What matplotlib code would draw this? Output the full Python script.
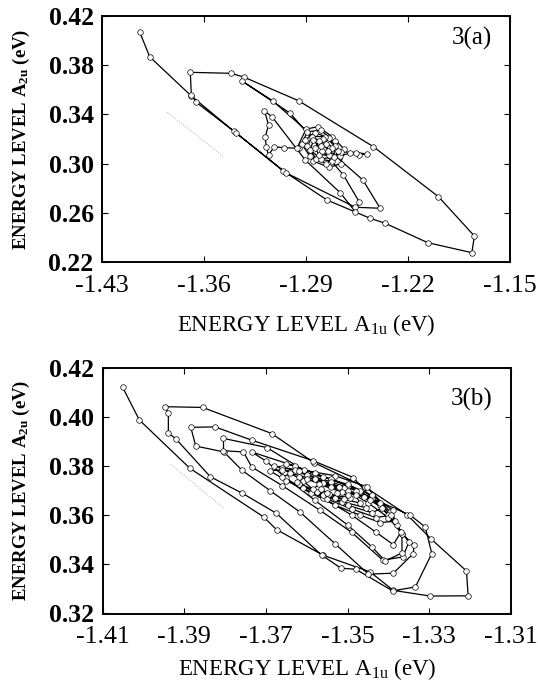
import matplotlib
matplotlib.use("Agg")
import matplotlib.pyplot as plt

# ---------------- data: panel 3(a) ----------------
a_x = [-1.4042, -1.3973, -1.3689, -1.3397, -1.3058, -1.2756, -1.2459, -1.2357, -1.2064, -1.1762,
       -1.1744, -1.1991, -1.2437, -1.2951, -1.3324, -1.3413, -1.3694, -1.3687, -1.3653, -1.3379,
       -1.3036, -1.2562, -1.2391, -1.2510, -1.3127, -1.3340, -1.3008, -1.2643, -1.2533, -1.2562,
       -1.2665, -1.2905, -1.3130, -1.3185, -1.3157, -1.3180, -1.3173, -1.3157, -1.3118, -1.3054,
       -1.2950,
       -1.2960, -1.2900, -1.2820, -1.2720, -1.2640, -1.2660, -1.2740, -1.2850, -1.2930, -1.2890,
       -1.2800, -1.2700, -1.2670, -1.2600, -1.2539, -1.2482, -1.2560, -1.2660, -1.2760, -1.2870,
       -1.2910, -1.2840, -1.2740, -1.2680, -1.2720, -1.2830, -1.2890, -1.2860, -1.2770, -1.2700,
       -1.2710, -1.2800, -1.2870, -1.2850, -1.2780, -1.2720, -1.2740, -1.2810, -1.2840, -1.2810,
       -1.2760, -1.2750, -1.2790, -1.2800]
a_y = [0.4072, 0.3869, 0.3552, 0.3265, 0.2942, 0.2704, 0.2555, 0.2515, 0.2357, 0.2276,
       0.2411, 0.2731, 0.3137, 0.3511, 0.3702, 0.3734, 0.3742, 0.3558, 0.3498, 0.3249,
       0.2924, 0.2645, 0.2637, 0.2867, 0.3509, 0.3672, 0.3409, 0.2907, 0.2685, 0.2609,
       0.2763, 0.3029, 0.3376, 0.3430, 0.3314, 0.3216, 0.3135, 0.3070, 0.3137, 0.3129,
       0.3125,
       0.3130, 0.3280, 0.3300, 0.3220, 0.3120, 0.3000, 0.2970, 0.3020, 0.3160, 0.3260,
       0.3270, 0.3180, 0.3060, 0.3085, 0.3072, 0.3078, 0.3090, 0.3095, 0.3000, 0.3060,
       0.3190, 0.3250, 0.3210, 0.3100, 0.3020, 0.3040, 0.3140, 0.3220, 0.3220, 0.3140,
       0.3050, 0.3040, 0.3110, 0.3190, 0.3200, 0.3130, 0.3070, 0.3070, 0.3130, 0.3180,
       0.3160, 0.3100, 0.3100, 0.3140]
a_faint_x = [-1.3851, -1.3465]
a_faint_y = [0.3418, 0.3055]

# ---------------- data: panel 3(b) ----------------
b_x = [-1.4051, -1.4010, -1.3886, -1.3706, -1.3674, -1.3560, -1.3445, -1.3388, -1.3298, -1.3205,
       -1.3209, -1.3295, -1.3354, -1.3458, -1.3583, -1.3686, -1.3855, -1.3947,
       -1.3939, -1.3939, -1.3920, -1.3836, -1.3759, -1.3675, -1.3564, -1.3516, -1.3480, -1.3390,
       -1.3334, -1.3294, -1.3310, -1.3347, -1.3441, -1.3486, -1.3584, -1.3735, -1.3825, -1.3884,
       -1.3872, -1.3803, -1.3759, -1.3690, -1.3617, -1.3531, -1.3449, -1.3388, -1.3339, -1.3338,
       -1.3367, -1.3396, -1.3453, -1.3530, -1.3608, -1.3698, -1.3804,
       -1.3804, -1.3755, -1.3735, -1.3660, -1.3568, -1.3490, -1.3414, -1.3365, -1.3350, -1.3380,
       -1.3420, -1.3470, -1.3540, -1.3630, -1.3735,
       -1.3700, -1.3650, -1.3580, -1.3500, -1.3440, -1.3408, -1.3367, -1.3367, -1.3400, -1.3441,
       -1.3500, -1.3580, -1.3650,
       -1.3660, -1.3610, -1.3560, -1.3490, -1.3430, -1.3388, -1.3370, -1.3400, -1.3450, -1.3510,
       -1.3580, -1.3630,
       -1.3680, -1.3620, -1.3560, -1.3500, -1.3440, -1.3390, -1.3385, -1.3420, -1.3470, -1.3530,
       -1.3590, -1.3650, -1.3690,
       -1.3660, -1.3600, -1.3540, -1.3480, -1.3420, -1.3395, -1.3430, -1.3490, -1.3550, -1.3610,
       -1.3660,
       -1.3640, -1.3580, -1.3520, -1.3460, -1.3415, -1.3440, -1.3500, -1.3560, -1.3620,
       -1.3620, -1.3560, -1.3500, -1.3445, -1.3455, -1.3515, -1.3575, -1.3625,
       -1.3600, -1.3540, -1.3480, -1.3470, -1.3530, -1.3585,
       -1.3570, -1.3515, -1.3495, -1.3545, -1.3565,
       -1.3550, -1.3510, -1.3500, -1.3525]
b_y = [0.4120, 0.3987, 0.3790, 0.3593, 0.3541, 0.3437, 0.3369, 0.3294, 0.3271, 0.3272,
       0.3373, 0.3502, 0.3601, 0.3715, 0.3814, 0.3932, 0.4038, 0.4041,
       0.4014, 0.3935, 0.3909, 0.3756, 0.3690, 0.3608, 0.3438, 0.3384, 0.3380, 0.3292,
       0.3308, 0.3444, 0.3552, 0.3600, 0.3668, 0.3753, 0.3821, 0.3905, 0.3959, 0.3957,
       0.3881, 0.3857, 0.3783, 0.3700, 0.3613, 0.3484, 0.3360, 0.3364, 0.3444, 0.3478,
       0.3525, 0.3613, 0.3715, 0.3760, 0.3783, 0.3875, 0.3912,
       0.3862, 0.3857, 0.3796, 0.3720, 0.3620, 0.3530, 0.3417, 0.3430, 0.3490, 0.3560,
       0.3640, 0.3700, 0.3745, 0.3800, 0.3857,
       0.3820, 0.3750, 0.3660, 0.3560, 0.3470, 0.3414, 0.3446, 0.3525, 0.3600, 0.3668,
       0.3720, 0.3770, 0.3810,
       0.3790, 0.3740, 0.3670, 0.3600, 0.3530, 0.3480, 0.3530, 0.3590, 0.3650, 0.3710,
       0.3750, 0.3785,
       0.3800, 0.3780, 0.3755, 0.3725, 0.3680, 0.3620, 0.3575, 0.3570, 0.3600, 0.3640,
       0.3690, 0.3740, 0.3780,
       0.3785, 0.3765, 0.3735, 0.3700, 0.3650, 0.3600, 0.3590, 0.3625, 0.3665, 0.3710,
       0.3755,
       0.3770, 0.3745, 0.3715, 0.3675, 0.3630, 0.3610, 0.3640, 0.3680, 0.3725,
       0.3755, 0.3730, 0.3700, 0.3660, 0.3630, 0.3655, 0.3695, 0.3735,
       0.3745, 0.3715, 0.3680, 0.3650, 0.3670, 0.3705,
       0.3725, 0.3695, 0.3670, 0.3685, 0.3705,
       0.3690, 0.3665, 0.3680, 0.3690]
b_faint_x = [-1.3933, -1.3803]
b_faint_y = [0.3807, 0.3628]

a_xticks = [-1.43, -1.36, -1.29, -1.22, -1.15]
a_yticks = [0.22, 0.26, 0.30, 0.34, 0.38, 0.42]
b_xticks = [-1.41, -1.39, -1.37, -1.35, -1.33, -1.31]
b_yticks = [0.32, 0.34, 0.36, 0.38, 0.40, 0.42]

plt.rcParams['font.family'] = ['Liberation Serif', 'DejaVu Serif']
plt.rcParams['mathtext.fontset'] = 'custom'
plt.rcParams['mathtext.rm'] = 'Liberation Serif'
plt.rcParams['mathtext.it'] = 'Liberation Serif:italic'
plt.rcParams['mathtext.bf'] = 'Liberation Serif:bold'
plt.rcParams['axes.unicode_minus'] = False

fig = plt.figure(figsize=(5.38, 6.88), dpi=100)
W, H = 538.0, 688.0
axa = fig.add_axes([102 / W, 1 - 262 / H, 408 / W, 246 / H])
axb = fig.add_axes([102.6 / W, 1 - 613.5 / H, 408.4 / W, 245.9 / H])

def style(ax, xt, yt, label, label_y, xlab_y):
    ax.set_xticks(xt)
    ax.set_yticks(yt)
    ax.set_xticklabels(['{:.2f}'.format(v) for v in xt], fontsize=18.5)
    ax.set_yticklabels(['{:.2f}'.format(v) for v in yt], fontsize=18.5, fontweight='bold')
    ax.set_xlim(xt[0], xt[-1])
    ax.set_ylim(yt[0], yt[-1])
    ax.tick_params(direction='in', length=4, width=0.8, top=True, right=True)
    ax.tick_params(axis='x', pad=9)
    ax.tick_params(axis='y', pad=6)
    for s in ax.spines.values():
        s.set_linewidth(1.4)
    ax.set_xlabel(r'ENERGY LEVEL A$_{\mathregular{1u}}$ (eV)', fontsize=16.5, va='top')
    ax.xaxis.set_label_coords(0.5, xlab_y)
    ax.set_ylabel(r'ENERGY LEVEL A$_{\mathregular{2u}}$ (eV)', fontsize=13.5, fontweight='bold')
    ax.yaxis.set_label_coords(-0.172, 0.5)
    ax.text(0.955, label_y, label, transform=ax.transAxes, ha='right', va='center', fontsize=18)

def draw(ax, xs, ys, fx, fy):
    ax.plot(fx, fy, color='0.6', lw=0.6, ls=(0, (1, 2)))
    ax.plot(xs, ys, color='black', lw=0.9, marker='o', ms=4.0, mfc='white', mec='black', mew=0.5)

draw(axa, a_x, a_y, a_faint_x, a_faint_y)
draw(axb, b_x, b_y, b_faint_x, b_faint_y)
style(axa, a_xticks, a_yticks, '3(a)', 0.91, -0.205)
style(axb, b_xticks, b_yticks, '3(b)', 0.872, -0.175)

fig.savefig('out.png', dpi=100)
